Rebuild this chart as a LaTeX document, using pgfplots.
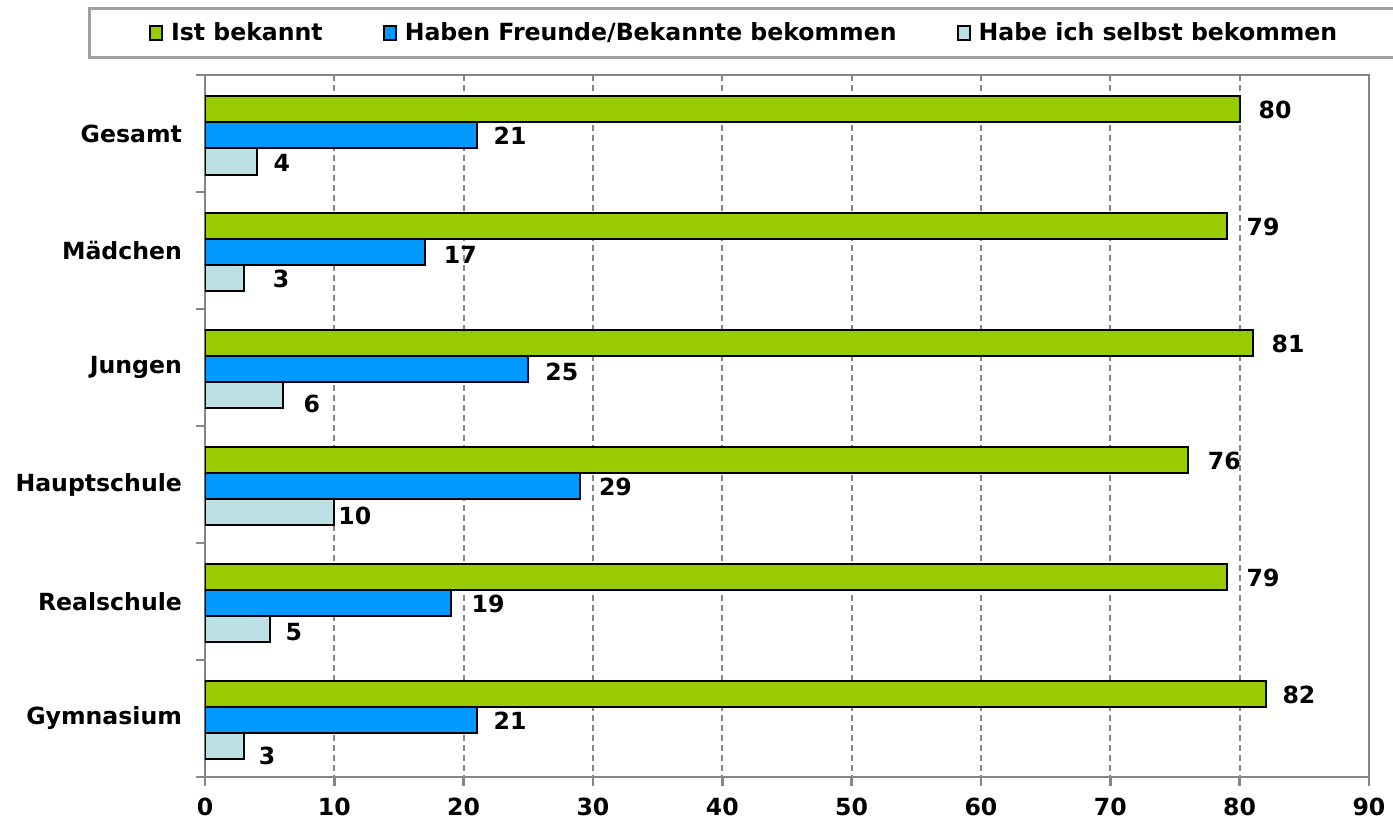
\documentclass[border=0pt]{standalone}
\usepackage{fontspec}
\setmainfont{DejaVu Sans}
\usepackage{pgfplots}
\usepackage{pgfplotstable}
\pgfplotsset{compat=1.18}
\pgfkeys{/pgf/number format/assume math mode=true}

\definecolor{barGreen}{RGB}{153,204,0}
\definecolor{barBlue}{RGB}{0,153,255}
\definecolor{barLight}{RGB}{189,224,228}
\definecolor{frameGray}{RGB}{134,134,134}
\definecolor{legendGray}{RGB}{160,160,160}

% y = category index (0 = Gesamt), x = percent, dx/dy = label offsets in pt
\pgfplotstableread{
y x dx dy
0 80 9 0
1 79 9.5 0
2 81 9 0
3 76 9.5 0
4 79 9.5 0
5 82 8 0
}\bekannt
\pgfplotstableread{
y x dx dy
0 21 8 0
1 17 9 -1
2 25 8 -1
3 29 9 0
4 19 10 0
5 21 8 0
}\freunde
\pgfplotstableread{
y x dx dy
0 4 8 -0.5
1 3 14 0
2 6 10 -4
3 10 1.5 -1.5
4 5 7.5 -1.5
5 3 7 -4.5
}\selbst

\begin{document}
\begin{tikzpicture}
\path[use as bounding box, clip] (-102.5pt,-22.5pt) rectangle (594pt,388.5pt);
\begin{axis}[
  scale only axis,
  width=582pt, height=351pt,
  font=\bfseries\fontsize{11.8}{14}\selectfont,
  xbar, bar width=13pt,
  xmin=0, xmax=90,
  ymin=-0.5, ymax=5.5,
  y dir=reverse,
  axis line style={frameGray, line width=1.2pt},
  xtick={0,10,...,90},
  xtick pos=lower,
  xticklabel style={yshift=-2.5pt},
  ytick={-0.5,0.5,...,5.5},
  yticklabels={},
  ytick pos=left,
  tick align=outside,
  major tick length=4.5pt,
  tick style={frameGray, line width=1.2pt},
  extra y ticks={0,1,2,3,4,5},
  extra y tick labels={Gesamt,Mädchen,Jungen,Hauptschule,Realschule,Gymnasium},
  extra y tick style={major tick length=0pt, grid=none, yticklabel style={xshift=-8pt}},
  xmajorgrids,
  grid style={frameGray, line width=1pt, dash pattern=on 3pt off 2pt},
  point meta=x,
  nodes near coords,
  every node near coord/.append style={anchor=west, inner sep=0pt, font=\bfseries\fontsize{11.8}{14}\selectfont},
  visualization depends on={\thisrow{dx} \as \dx},
  visualization depends on={\thisrow{dy} \as \dy},
  every node near coord/.append style={xshift=\dx pt, yshift=\dy pt},
  legend columns=3,
  legend style={
    at={(-0.1009,1.0975)}, anchor=north west,
    draw=legendGray, line width=1.5pt,
    inner xsep=30pt, inner ysep=7.2pt,
    nodes={inner sep=0pt, anchor=west},
    /tikz/every odd column/.append style={column sep=4pt},
    /tikz/every even column/.append style={column sep=30pt},
  },
  legend image code/.code={\draw[#1, draw=black, line width=1pt] (0pt,-3.6pt) rectangle (6pt,3.6pt);},
]
\addplot[bar shift=12pt, fill=barGreen, draw=black, line width=1pt] table[x=x, y=y] {\bekannt};
\addplot[bar shift=-1pt, fill=barBlue, draw=black, line width=1pt] table[x=x, y=y] {\freunde};
\addplot[bar shift=-14pt, fill=barLight, draw=black, line width=1pt] table[x=x, y=y] {\selbst};
\legend{Ist bekannt, Haben Freunde/Bekannte bekommen, Habe ich selbst bekommen}
\end{axis}
\end{tikzpicture}
\end{document}
